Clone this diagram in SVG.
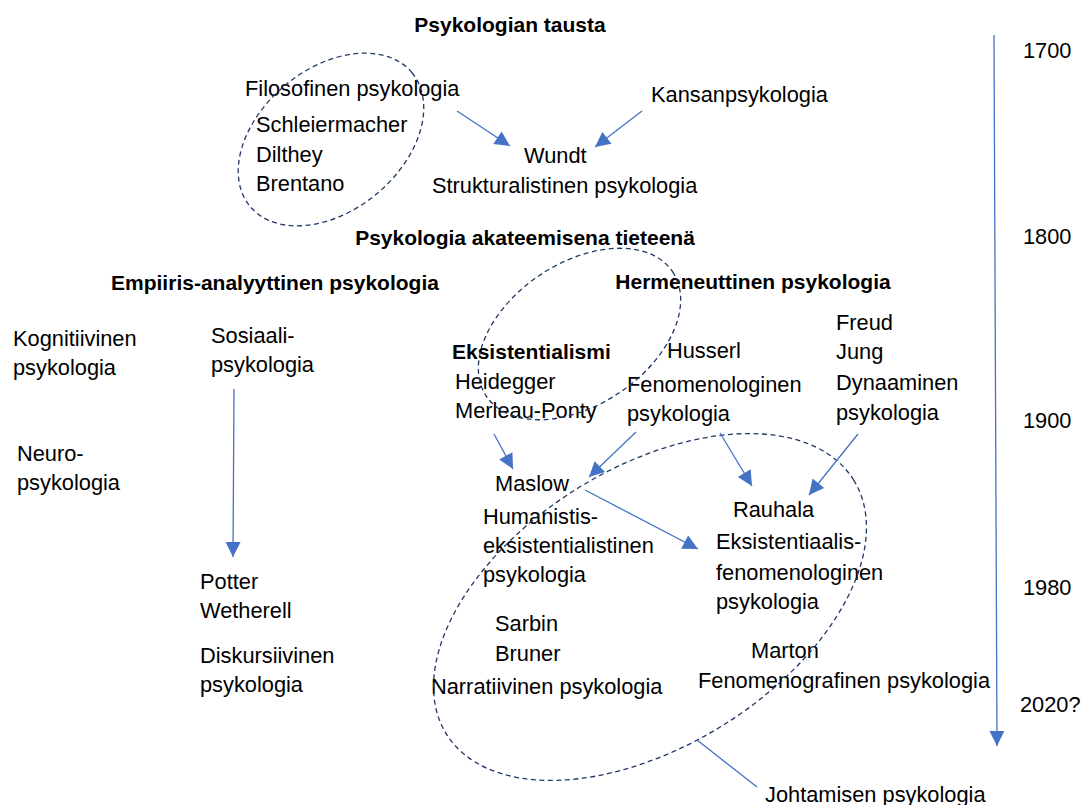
<svg xmlns="http://www.w3.org/2000/svg" width="1081" height="805" viewBox="0 0 1081 805">
<style>
text{font-family:"Liberation Sans",Arial,sans-serif;font-size:21.8px;fill:#000}
.b{font-weight:bold;text-anchor:middle;font-size:21px}
.bl{font-weight:bold;font-size:21px}
.arr{stroke:#4472C4;stroke-width:1.3;fill:none}
.ell{stroke:#1F3864;stroke-width:1.3;fill:none;stroke-dasharray:5 3.5}
</style>
<defs>
<marker id="ah" viewBox="0 0 10 10" refX="10" refY="5" markerUnits="userSpaceOnUse" markerWidth="17" markerHeight="15" orient="auto">
<path d="M0,0 L10,5 L0,10 Z" fill="#4472C4"/>
</marker>
</defs>
<rect width="1081" height="805" fill="#fff"/>

<g id="headings">
<text class="b" x="510" y="32">Psykologian tausta</text>
<text class="b" x="525" y="245">Psykologia akateemisena tieteenä</text>
<text class="b" x="275" y="290">Empiiris-analyyttinen psykologia</text>
<text class="b" x="753" y="289">Hermeneuttinen psykologia</text>
</g>

<g id="timeline">
<text x="1023" y="58">1700</text>
<text x="1023" y="244">1800</text>
<text x="1023" y="428">1900</text>
<text x="1023" y="595">1980</text>
<text x="1020" y="712">2020?</text>
</g>

<g id="filosofinen">
<text x="245" y="96">Filosofinen psykologia</text>
<text x="256" y="132">Schleiermacher</text>
<text x="256" y="162">Dilthey</text>
<text x="256" y="191">Brentano</text>
</g>
<g id="kansan"><text x="651" y="102">Kansanpsykologia</text></g>
<g id="wundt">
<text x="524" y="163">Wundt</text>
<text x="432" y="193">Strukturalistinen psykologia</text>
</g>

<g id="kognitiivinen">
<text x="13" y="346">Kognitiivinen</text>
<text x="13" y="375">psykologia</text>
</g>
<g id="sosiaali">
<text x="211" y="343">Sosiaali-</text>
<text x="211" y="372">psykologia</text>
</g>
<g id="neuro">
<text x="17" y="461">Neuro-</text>
<text x="17" y="490">psykologia</text>
</g>
<g id="potter">
<text x="200" y="589">Potter</text>
<text x="200" y="618">Wetherell</text>
</g>
<g id="diskursiivinen">
<text x="200" y="663">Diskursiivinen</text>
<text x="200" y="692">psykologia</text>
</g>

<g id="eksistentialismi">
<text class="bl" x="452" y="359">Eksistentialismi</text>
<text x="455" y="389">Heidegger</text>
<text x="455" y="418">Merleau-Ponty</text>
</g>
<g id="husserl">
<text x="667" y="358">Husserl</text>
<text x="627" y="392">Fenomenologinen</text>
<text x="627" y="421">psykologia</text>
</g>
<g id="freud">
<text x="836" y="330">Freud</text>
<text x="836" y="359">Jung</text>
<text x="836" y="390">Dynaaminen</text>
<text x="836" y="420">psykologia</text>
</g>
<g id="maslow">
<text x="495" y="491">Maslow</text>
<text x="483" y="524">Humanistis-</text>
<text x="483" y="553">eksistentialistinen</text>
<text x="483" y="582">psykologia</text>
</g>
<g id="rauhala">
<text x="733" y="517">Rauhala</text>
<text x="716" y="549">Eksistentiaalis-</text>
<text x="716" y="580">fenomenologinen</text>
<text x="716" y="609">psykologia</text>
</g>
<g id="sarbin">
<text x="495" y="631">Sarbin</text>
<text x="495" y="661">Bruner</text>
<text x="431" y="694">Narratiivinen psykologia</text>
</g>
<g id="marton">
<text x="751" y="658">Marton</text>
<text x="698" y="688">Fenomenografinen psykologia</text>
</g>
<g id="johtamisen"><text x="765" y="802">Johtamisen psykologia</text></g>

<g id="groups">
<ellipse class="ell" cx="331" cy="139.5" rx="105" ry="71" transform="rotate(-39.5 331 139.5)"/>
<ellipse class="ell" cx="579.5" cy="334" rx="112" ry="71" transform="rotate(-33.7 579.5 334)"/>
<ellipse class="ell" cx="650" cy="607" rx="240" ry="139" transform="rotate(-32 650 607)"/>
</g>

<g id="connectors">
<line class="arr" x1="994" y1="35" x2="997" y2="746" marker-end="url(#ah)"/>
<line class="arr" x1="457" y1="111" x2="510" y2="146" marker-end="url(#ah)"/>
<line class="arr" x1="642" y1="111" x2="595" y2="147" marker-end="url(#ah)"/>
<line class="arr" x1="234" y1="389" x2="233" y2="557" marker-end="url(#ah)"/>
<line class="arr" x1="494" y1="434" x2="513" y2="469" marker-end="url(#ah)"/>
<line class="arr" x1="636" y1="432" x2="589" y2="477" marker-end="url(#ah)"/>
<line class="arr" x1="720" y1="433" x2="752" y2="486" marker-end="url(#ah)"/>
<line class="arr" x1="858" y1="434" x2="809" y2="495" marker-end="url(#ah)"/>
<line class="arr" x1="585" y1="490" x2="698" y2="549" marker-end="url(#ah)"/>
<line class="arr" x1="697" y1="740" x2="757" y2="787"/>
</g>
</svg>
